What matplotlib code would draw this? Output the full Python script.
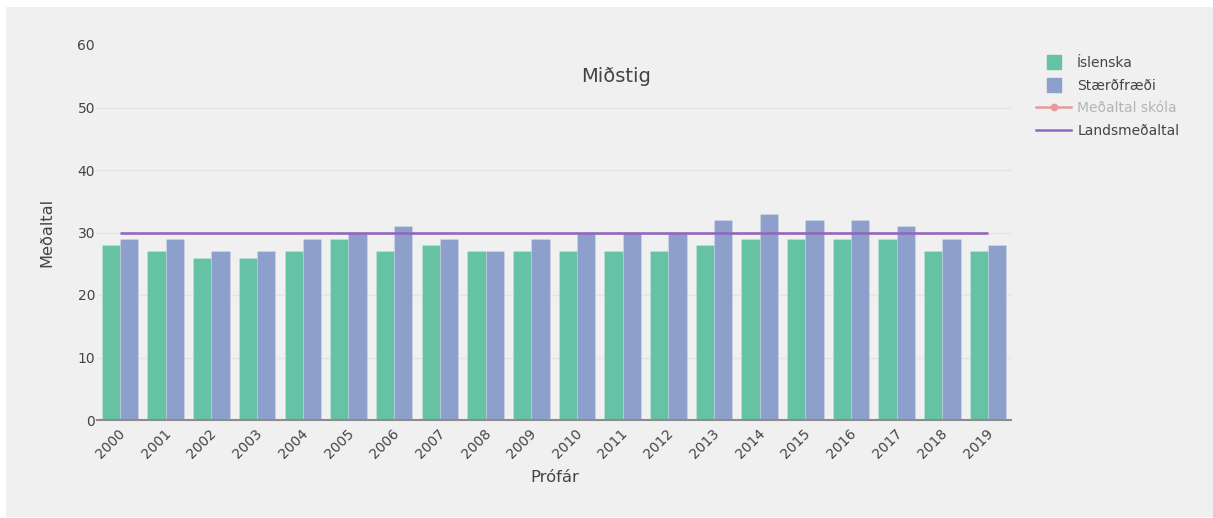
import matplotlib
matplotlib.use("Agg")
import matplotlib.pyplot as plt
import numpy as np
from matplotlib.lines import Line2D
from matplotlib.patches import Rectangle
from matplotlib.transforms import ScaledTranslation

years = [2000, 2001, 2002, 2003, 2004, 2005, 2006, 2007, 2008, 2009,
         2010, 2011, 2012, 2013, 2014, 2015, 2016, 2017, 2018, 2019]
islenska = [28, 27, 26, 26, 27, 29, 27, 28, 27, 27,
            27, 27, 27, 28, 29, 29, 29, 29, 27, 27]
staerdfraedi = [29, 29, 27, 27, 29, 30, 31, 29, 27, 29,
                30, 30, 30, 32, 33, 32, 32, 31, 29, 28]
landsmedaltal = [30] * 20

W, H = 1213, 518
BG = '#f0f0f0'
TXT = '#444444'
GREEN = '#66c2a5'
BLUE = '#8da0cb'
PURPLE = '#9467bd'

fig = plt.figure(figsize=(W / 100, H / 100), dpi=100, facecolor='white')
fig.add_artist(Rectangle((6 / W, 1 - 517 / H), (W - 6) / W, 510 / H,
                         transform=fig.transFigure, fc=BG, ec='none', zorder=-5))

ax = fig.add_axes([97.2 / W, 1 - 420 / H, 913.8 / W, 375 / H])
ax.patch.set_alpha(0)

x = np.arange(len(years))
ax.bar(x - 0.2, islenska, 0.4, color=GREEN, edgecolor='#ffffff40', linewidth=0.5, zorder=2)
ax.bar(x + 0.2, staerdfraedi, 0.4, color=BLUE, edgecolor='#ffffff40', linewidth=0.5, zorder=2)
ax.plot(x, landsmedaltal, color=PURPLE, linewidth=1.9, zorder=3, solid_capstyle='butt')

ax.set_xlim(-0.5, 19.5)
ax.set_ylim(0, 60)
ax.set_yticks([0, 10, 20, 30, 40, 50, 60])
ax.set_xticks(x)
ax.set_xticklabels(years, rotation=45, ha='right', rotation_mode='anchor')
ax.tick_params(axis='both', length=0, labelsize=10, labelcolor=TXT)
ax.tick_params(axis='x', pad=4.5)
ax.tick_params(axis='y', pad=1.5)
# nudge year labels a little to the left
shift = ScaledTranslation(-2 / 100, 0, fig.dpi_scale_trans)
for lab in ax.get_xticklabels():
    lab.set_transform(lab.get_transform() + shift)
ax.grid(axis='y', color='#e4e4e4', linewidth=1, zorder=0)
ax.set_axisbelow(True)
ax.get_ygridlines()[-1].set_visible(False)
for s in ['top', 'left', 'right']:
    ax.spines[s].set_visible(False)
ax.spines['bottom'].set_color('#8c8c8c')
ax.spines['bottom'].set_linewidth(1.5)
ax.spines['bottom'].set_zorder(4)

fig.text(555 / W, 1 - 477 / H, 'Prófár', ha='center', va='center', fontsize=11.8, color=TXT)
fig.text(47 / W, 1 - 232 / H, 'Meðaltal', ha='center', va='center', rotation=90, fontsize=11.7, color=TXT)
fig.text(616 / W, 1 - 77 / H, 'Miðstig', ha='center', va='center', fontsize=14, color=TXT)

handles = [
    Line2D([], [], marker='s', linestyle='none', ms=10, color=GREEN),
    Line2D([], [], marker='s', linestyle='none', ms=10, color=BLUE),
    Line2D([], [], marker='o', ms=4.5, lw=1.8, color='#e89a9a'),
    Line2D([], [], lw=1.8, color=PURPLE),
]
names = ['Íslenska', 'Stærðfræði', 'Meðaltal skóla', 'Landsmeðaltal']
leg = fig.legend(handles, names, loc='upper left', bbox_to_anchor=(1036 / W, 1 - 56 / H),
                 frameon=False, fontsize=10, borderpad=0, borderaxespad=0,
                 handlelength=2.55, handletextpad=0.43, labelspacing=0.62)
for t, c in zip(leg.get_texts(), [TXT, TXT, '#b4b4b4', TXT]):
    t.set_color(c)

fig.savefig('out.png', dpi=100, facecolor='white')
